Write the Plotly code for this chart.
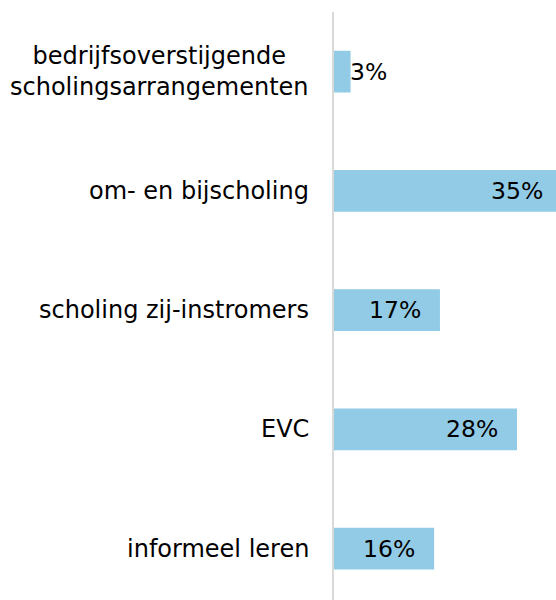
import plotly.graph_objects as go

categories = ["bedrijfsoverstijgende<br>scholingsarrangementen", "om- en bijscholing",
              "scholing zij-instromers", "EVC", "informeel leren"]
values = [2.55, 35.0, 16.3, 28.15, 15.4]
value_labels = ["3%", "35%", "17%", "28%", "16%"]
inside = [False, True, True, True, True]

X_MAX = 34.15
FONT = "DejaVu Sans"
positions = list(range(len(categories)))

fig = go.Figure()
fig.add_trace(go.Bar(
    x=values, y=positions, orientation="h",
    marker=dict(color="#92CBE6", line=dict(width=0)),
    width=0.35, hoverinfo="skip",
))

annotations = []
for p, cat in zip(positions, categories):
    annotations.append(dict(
        x=0, xref="paper", y=p, yref="y", text=cat, showarrow=False,
        xanchor="right", yanchor="middle", align="center", xshift=-23,
        font=dict(family=FONT, size=24, color="#000000"),
    ))
for p, v, lab, ins in zip(positions, values, value_labels, inside):
    annotations.append(dict(
        x=v / X_MAX, xref="paper", y=p, yref="y", text=lab, showarrow=False,
        xanchor="right" if ins else "left", yanchor="middle",
        xshift=-17 if ins else -3,
        font=dict(family=FONT, size=23.5, color="#000000"),
    ))

fig.update_layout(
    width=556, height=600,
    margin=dict(l=334, r=0, t=12, b=0),
    paper_bgcolor="white", plot_bgcolor="white",
    showlegend=False,
    annotations=annotations,
    xaxis=dict(range=[0, X_MAX], visible=False, showgrid=False, zeroline=False),
    yaxis=dict(range=[4.43, -0.5], showticklabels=False, ticks="",
               showgrid=False, zeroline=False,
               showline=True, linecolor="#D9D9D9", linewidth=2),
)

fig.write_html(
    "out.html",
    config={"displayModeBar": False},
    post_script="document.body.style.margin='0';document.body.style.overflow='hidden';",
)
